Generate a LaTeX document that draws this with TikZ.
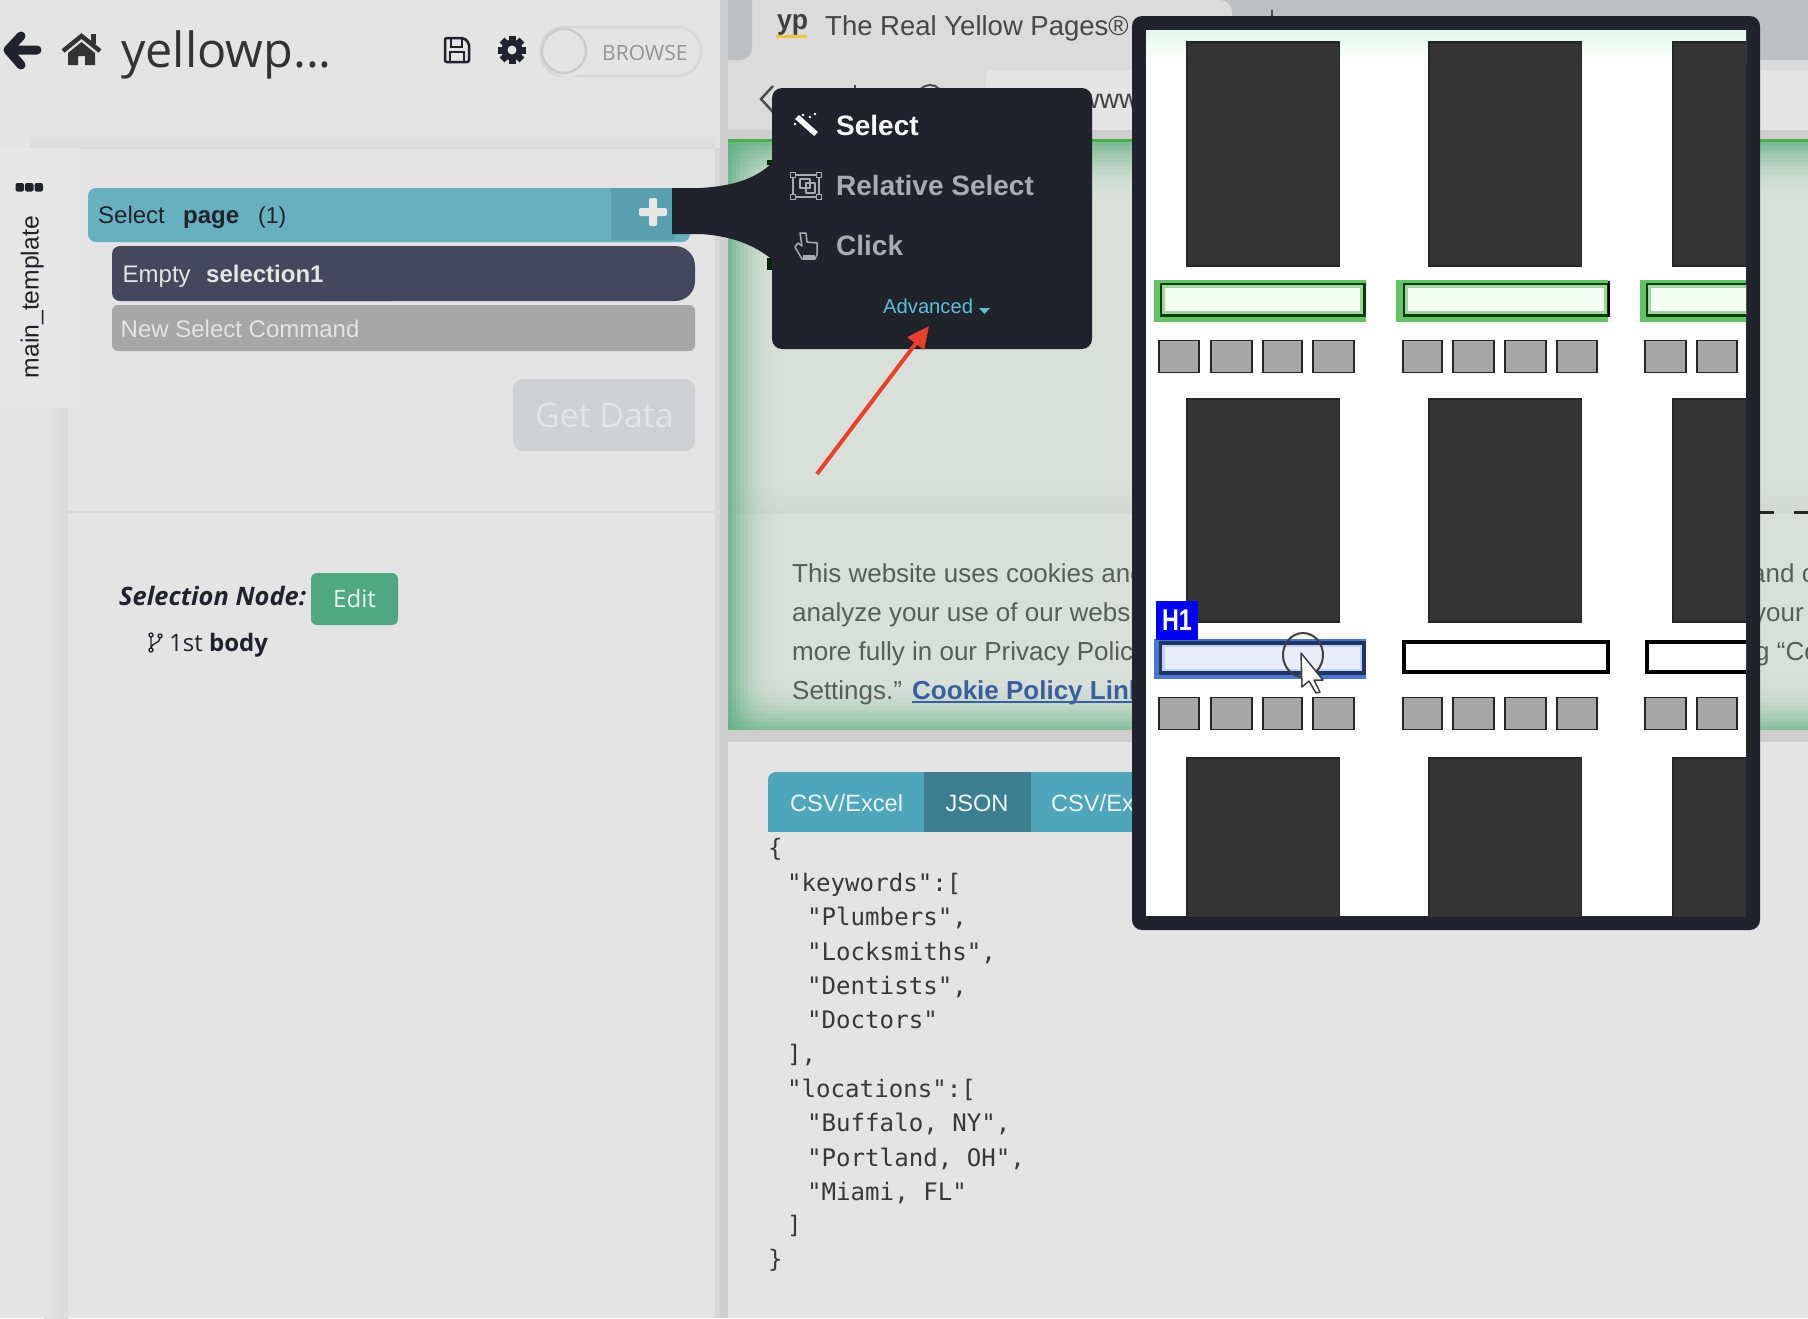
\documentclass[tikz,border=0pt]{standalone}
\usepackage{fontspec}
\usepackage{xcolor}
\setmainfont{Liberation Sans}
\newfontfamily\opensans{Open Sans}
\setmonofont{DejaVu Sans Mono}
\usetikzlibrary{arrows.meta,positioning}

\definecolor{panelbg}{HTML}{E4E4E4}
\definecolor{stripbg}{HTML}{CECECE}
\definecolor{darkbg}{HTML}{20232C}
\definecolor{tabgrey}{HTML}{BEC1C4}
\definecolor{barlight}{HTML}{DBDBDB}
\definecolor{pagebg}{HTML}{D9E0DA}
\definecolor{glow}{HTML}{5FAF80}
\definecolor{selbar}{HTML}{66B0C0}
\definecolor{selplus}{HTML}{5A9FB0}
\definecolor{emptybar}{HTML}{45475D}
\definecolor{newbar}{HTML}{A7A7A7}
\definecolor{getdata}{HTML}{CFD1D5}
\definecolor{editbtn}{HTML}{50A882}
\definecolor{menugrey}{HTML}{A9ABB0}
\definecolor{advcyan}{HTML}{5EC0D8}
\definecolor{linkblue}{HTML}{3A5FA0}
\definecolor{cookietxt}{HTML}{555F58}
\definecolor{tabteal}{HTML}{4FA5BA}
\definecolor{tabdark}{HTML}{3D7F90}
\definecolor{block}{HTML}{333433}
\definecolor{redarrow}{HTML}{E8402A}
\definecolor{ypyellow}{HTML}{E8C840}
\definecolor{hoverblue}{HTML}{4A78CC}
\definecolor{hoverdark}{HTML}{1F3466}
\definecolor{hoverfill}{HTML}{E8EDF8}
\definecolor{hoverglow}{HTML}{C4D2EE}

\tikzset{
	txt/.style={anchor=base west,inner sep=0pt,font=\fontsize{#1}{#1}\selectfont},
	otxt/.style={anchor=base west,inner sep=0pt,font=\opensans\fontsize{#1}{#1}\selectfont},
	code/.style={anchor=base west,inner sep=0pt,text=black!78,font=\ttfamily\fontsize{24.1}{24.1}\selectfont},
	blockbox/.style={fill=block,draw=black!85,line width=1.5pt},
	keybox/.style={fill=newbar,draw=black!85,line width=1.5pt},
	iconline/.style={draw=menugrey,line width=1.5pt,line join=round},
}

\begin{document}
\begin{tikzpicture}[x=1pt,y=-1pt]
	\useasboundingbox (0,0) rectangle (1808,1318);
	\fill[panelbg] (0,0) rectangle (1808,1318);

	% browser chrome
	\fill[barlight] (728,0) rectangle (1808,139);
	\fill[tabgrey] (1200,0) rectangle (1808,60);
	\fill[barlight,rounded corners=12] (740,0) rectangle (1232,90);
	\fill[tabgrey,rounded corners=12] (690,-20) rectangle (752,60);
	\fill[panelbg,rounded corners=6] (986,70) rectangle (1830,130);
	\fill[stripbg] (728,130) rectangle (1808,139);
	\fill[ypyellow] (776,35) rectangle (807,38);
	\node[txt=30,text=black!75,font=\bfseries\fontsize{28}{28}\selectfont] (logo) at (777,29) {\scalebox{.95}[1]{yp}};
	\node[txt=27.5,text=black!72] (tabtitle) at (825,35) {The Real Yellow Pages®};
	\draw[black!70,line width=2.5pt] (773,86) -- (761,99) -- (773,112);
	\draw[black!70,line width=2pt] (855,85) -- (855,95);
	\draw[black!70,line width=2pt] (930,98) circle (13);
	\draw[black!70,line width=2pt] (1272,10) -- (1272,16);
	\node[txt=27,text=black!75] (urltext) at (1080,108) {www};

	% page under the overlay
	\fill[pagebg] (728,142) rectangle (1808,730);
	\fill[green!55!black!70] (728,139) rectangle (1808,142);
	\foreach \k [evaluate=\k as \op using {0.75*(1-\k/14)^2}] in {0,...,13}
		\fill[glow,opacity=\op] (728,142+4*\k) rectangle (1808,146+4*\k);
	\foreach \k in {0,...,7}
		\fill[black,opacity=0.03*\k/7] (728,482+4*\k) rectangle (1808,486+4*\k);
	\fill[pagebg] (728,514) rectangle (1808,730);
	\foreach \k [evaluate=\k as \op using {0.75*(\k/14)^2}] in {0,...,13}
		\fill[glow,opacity=\op] (728,674+4*\k) rectangle (1808,678+4*\k);
	\foreach \k [evaluate=\k as \op using {0.8*(1-\k/16)^3}] in {0,...,15}
		\fill[glow,opacity=\op] (728+4*\k,142) rectangle (732+4*\k,730);
	\fill[stripbg] (728,730) rectangle (1808,742);
	\draw[black!85,line width=3pt] (1760,512.5) -- (1774,512.5);
	\draw[black!85,line width=3pt] (1794,512.5) -- (1808,512.5);

	\node[txt=26,text=cookietxt] (cookieone) at (792,582) {This website uses cookies and};
	\node[txt=26,text=cookietxt] (cookietwo) at (792,621) {analyze your use of our website};
	\node[txt=26,text=cookietxt] (cookiethree) at (792,660) {more fully in our Privacy Policy};
	\node[txt=26,text=cookietxt] (cookiefour) at (792,699) {Settings.”};
	\node[txt=26,text=linkblue,font=\bfseries\fontsize{26}{26}\selectfont] (cookielink) at (912,699) {Cookie Policy Link};
	\draw[linkblue,line width=2pt] ([yshift=-3pt]cookielink.base west) -- ([yshift=-3pt]cookielink.base east);
	\node[txt=26,text=cookietxt] (cookieright) at (1751,582) {and c};
	\node[txt=26,text=cookietxt] (cookieyour) at (1753,621) {your};
	\node[txt=26,text=cookietxt] (cookieg) at (1755,660) {g “Co};

	% output tabs and json
	\fill[tabteal,rounded corners=8] (768,772) rectangle (1200,850);
	\fill[panelbg] (760,832) rectangle (1200,860);
	\fill[tabdark] (924,772) rectangle (1031,832);
	\node[txt=23.6,text=white!90!tabteal] (tabcsv) at (790,811) {CSV/Excel};
	\node[txt=23.6,text=white!90!tabteal,anchor=base] (tabjson) at (977,811) {JSON};
	\node[txt=23.6,text=white!90!tabteal] (tabcsvtwo) at (1051,811) {CSV/Excel};

	\node[code] (jsa) at (768,856) {\{};
	\node[code] (jsb) at (787,891) {"keywords":[};
	\node[code] (jsc) at (807,925.5) {"Plumbers",};
	\node[code] (jsd) at (807,960) {"Locksmiths",};
	\node[code] (jse) at (807,994) {"Dentists",};
	\node[code] (jsf) at (807,1028) {"Doctors"};
	\node[code] (jsg) at (787,1062) {],};
	\node[code] (jsh) at (787,1097) {"locations":[};
	\node[code] (jsi) at (807,1131) {"Buffalo, NY",};
	\node[code] (jsj) at (807,1166) {"Portland, OH",};
	\node[code] (jsk) at (807,1200) {"Miami, FL"};
	\node[code] (jsl) at (787,1233) {]};
	\node[code] (jsm) at (768,1267) {\}};

	% left panel
	\fill[panelbg] (0,0) rectangle (720,1318);
	\fill[stripbg] (720,0) rectangle (728,1318);
	\fill[panelbg!95!black] (715,148) rectangle (720,1318);
	\shade[top color=panelbg,bottom color=black!14] (30,132) rectangle (715,148);
	\shade[left color=panelbg,right color=black!14] (44,408) rectangle (68,1318);
	\fill[panelbg!88!white] (0,148) rectangle (80,408);
	\draw[black!15,line width=2pt] (68,512) -- (715,512);

	\foreach \k in {0,1,2}
		\fill[darkbg,rounded corners=2] (15.5+9.5*\k,183) rectangle ++(8.5,8.5);
	\node[txt=24.7,text=darkbg,rotate=90,anchor=base east] (tplname) at (38.5,216) {main\_template};

	% header icons
	\draw[darkbg,line width=9pt,line cap=round,line join=round] (37,50) -- (8,50) (21,36) -- (8,50) -- (21,65);
	\draw[black!80,line width=4.5pt,line join=miter] (63,51) -- (81.5,36) -- (100,51);
	\fill[black!80] (91,34) rectangle (96,44);
	\fill[black!80] (68,53) -- (81.5,42) -- (95,53) -- (95,65) -- (85,65) -- (85,56) -- (78,56) -- (78,65) -- (68,65) -- cycle;
	\node[otxt=48.5,text=black!80] (projname) at (121,67) {yellowp...};
	\draw[darkbg,line width=2.5pt,rounded corners=2] (445,38) -- (464,38) -- (469,43) -- (469,62) -- (445,62) -- cycle;
	\draw[darkbg,line width=2pt] (451,38) -- (451,47) -- (462,47) -- (462,38);
	\draw[darkbg,line width=2pt] (450,62) -- (450,52) -- (464,52) -- (464,62);
	\foreach \a in {0,45,90,135}
		\fill[darkbg,rotate around={\a:(512,50)}] (508.5,36) rectangle (515.5,64);
	\fill[darkbg] (512,50) circle (10.5);
	\fill[panelbg] (512,50) circle (4.5);
	\draw[black!15,line width=2.5pt,rounded corners=24] (540,27) rectangle (701,76);
	\fill[black!10] (568,54) circle (23);
	\filldraw[fill=panelbg,draw=black!20,line width=2.5pt] (564,51) circle (22);
	\node[otxt=21,text=black!42] (browse) at (602,60) {BROWSE};

	% selection rows
	\fill[selbar,rounded corners=8] (88,188) rectangle (690,242);
	\fill[selplus] (611,188) rectangle (675,240);
	\fill[panelbg!90!white,rounded corners=2] (649,198) rectangle (657,226);
	\fill[panelbg!90!white,rounded corners=2] (639,208) rectangle (667,216);
	\node[txt=24,text=darkbg] (seltxt) at (98,223) {Select};
	\node[txt=24,text=darkbg,font=\bfseries\fontsize{24}{24}\selectfont] (selpage) at (183,223) {page};
	\node[txt=23,text=darkbg] (selcount) at (258,223) {(1)};
	\fill[emptybar,rounded corners=8] (112,246) rectangle (400,301);
	\fill[emptybar,rounded corners=20] (300,246) rectangle (695,301);
	\node[txt=24,text=panelbg] (emptytxt) at (122.5,282) {Empty};
	\node[txt=24,text=panelbg,font=\bfseries\fontsize{24}{24}\selectfont] (emptyname) at (206,282) {selection1};
	\fill[newbar,rounded corners=6] (112,305) rectangle (695,351);
	\node[txt=24,text=panelbg] (newcmd) at (120.5,337) {New Select Command};
	\fill[getdata,rounded corners=10] (513,379) rectangle (695,451);
	\node[otxt=33.8,text=panelbg] (getdatatxt) at (535,427) {Get Data};

	\node[otxt=24,text=darkbg,font=\opensans\bfseries\itshape\fontsize{25.4}{25.4}\selectfont] (selnode) at (119,605) {Selection Node:};
	\fill[editbtn,rounded corners=6] (311,573) rectangle (398,625);
	\node[otxt=24,text=white!88!editbtn,anchor=base] (edittxt) at (354.5,607.5) {Edit};
	\draw[darkbg,line width=1.3pt] (151,637) -- (151,648) (160,638) .. controls (160,644) and (152,642) .. (151,648);
	\foreach \p in {(151,635),(160,636),(151,650)}
		\draw[darkbg,line width=1.3pt] \p circle (2);
	\node[otxt=24,text=darkbg] (nodepos) at (169,651) {1st \textbf{body}};

	% popup menu
	\fill[darkbg] (672,188) -- (700,188) .. controls (735,186) and (758,178) .. (775,160) -- (775,262) .. controls (758,247) and (735,236) .. (700,234) -- (672,234) -- cycle;
	\fill[black!85!green] (767,258) rectangle (773,270);
	\fill[black!85!green] (767,160) rectangle (773,165);
	\fill[darkbg,rounded corners=10] (772,88) rectangle (1092,349);
	\node[txt=28,text=white,font=\bfseries\fontsize{28}{28}\selectfont] (menuselect) at (836,135) {Select};
	\node[txt=28,text=menugrey,font=\bfseries\fontsize{28}{28}\selectfont] (menurelative) at (836,195) {Relative Select};
	\node[txt=28,text=menugrey,font=\bfseries\fontsize{28}{28}\selectfont] (menuclick) at (836,255) {Click};
	\node[txt=20.2,text=advcyan] (menuadvanced) at (883,313) {Advanced};
	\fill[advcyan] (979,308) -- (990,308) -- (984.5,314) -- cycle;
	\draw[white,line width=5.5pt] (797,117) -- (816,134);
	\foreach \p in {(803,115),(810,117),(815,114),(795,124)}
		\fill[white] \p circle (1.3);
	\draw[iconline] (793,175) rectangle (819,197);
	\foreach \p in {(793,175),(819,175),(793,197),(819,197)}
		\filldraw[fill=darkbg,draw=menugrey,line width=1.2pt] \p ++(-2.5,-2.5) rectangle ++(5,5);
	\draw[iconline] (800,179) rectangle (810,188);
	\draw[iconline] (806,183) rectangle (815,193);
	\draw[iconline] (800,233) -- (806,233) -- (807,242) -- (817,243) -- (817,255) -- (815,259) -- (802,259) -- (795,247) -- (798,243) -- (802,246) -- cycle;
	\fill[menugrey] (803,255) rectangle (815,259);

	\coordinate (arrowstart) at (817,474);
	\coordinate (arrowtip) at (929,326);
	\draw[redarrow,line width=4pt,-{Triangle[length=22pt,width=20pt]}] (arrowstart) -- (arrowtip);

	% zoom overlay
	\fill[darkbg,rounded corners=10] (1132,16) rectangle (1760,930);
	\begin{scope}
		\clip (1146,30) rectangle (1746,916);
		\fill[white] (1146,30) rectangle (1746,916);
		\shade[top color=green!45!teal!12!white,bottom color=white] (1146,30) rectangle (1746,62);
		\foreach \x in {1187,1429,1673}
			\foreach \t/\b in {42/266,399/622,758/930}
				\draw[blockbox] (\x,\t) rectangle (\x+152.5,\b);
		% green bars of the first row
		\foreach \o/\p/\i/\j in {1154/1366/1161/1364,1396/1608/1404/1608,1640/1800/1647/1800}{
			\fill[green!60!black!60] (\o,280) rectangle (\p,322);
			\filldraw[fill=green!5!white,draw=green!25!black,line width=3pt] (\i,284) rectangle (\j,315);
			\draw[green!50!black!35,line width=2.5pt] (\i+2.5,286.5) rectangle (\j-2.5,312.5);
		}
		\draw[black,line width=1.5pt] (1609,281) -- (1609,317);
		% hovered bar
		\fill[hoverblue] (1154,639) rectangle (1366,679);
		\filldraw[fill=hoverfill,draw=hoverdark,line width=3.5pt] (1160.5,643) rectangle (1364,673);
		\draw[hoverglow,line width=2.5pt] (1163.5,646) rectangle (1361,670);
		\foreach \x/\y in {1404/1608,1647/1800}
			\filldraw[fill=white,draw=black,line width=4pt] (\x,642) rectangle (\y,672);
		\foreach \t in {340.5,697.5}
			\foreach \l/\r in {1159/1199,1211/1252,1263/1302,1313/1354,1403/1442,1453/1494,1505/1546,1557/1597,1645/1686,1697/1737}
				\draw[keybox] (\l,\t) rectangle (\r,\t+32);
		\node[fill=blue!95!black,minimum width=42pt,minimum height=39pt,inner sep=0pt,text=white,font=\bfseries\fontsize{30}{30}\selectfont] (htag) at (1177,620.5) {\scalebox{.78}[1]{H1}};
		\draw[black!75,line width=2pt] (1303,655) ellipse (20 and 22);
		\filldraw[fill=white,draw=black!75,line width=1.5pt,line join=round] (1301,653) -- (1302,687) -- (1309,681) -- (1316,693) -- (1320,692) -- (1314,680) -- (1323,680) -- cycle;
	\end{scope}
\end{tikzpicture}
\end{document}
